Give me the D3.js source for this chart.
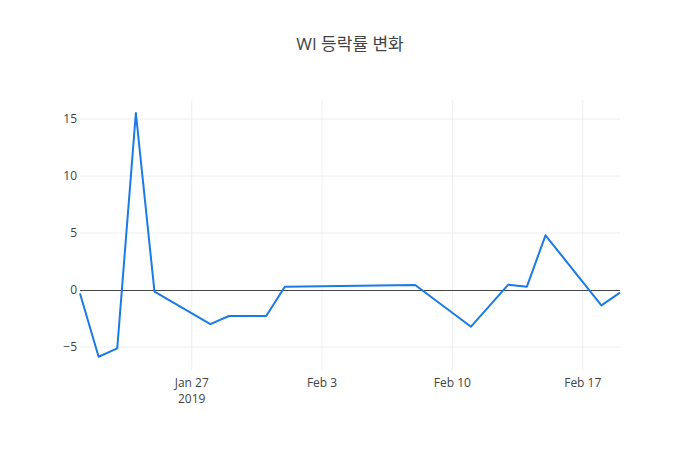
<!DOCTYPE html>
<html>
  <head>
    <meta charset="utf-8" />
    <title>WI 등락률 변화</title>
    <style>
      body { margin: 0; background: #fff; }
      svg text { font-family: "Open Sans", "Noto Sans CJK KR", sans-serif; fill: #444; }
    </style>
  </head>
  <body>
    <svg width="700" height="450"></svg>
    <script src="https://d3js.org/d3.v7.min.js"></script>
    <script>
      // trading days and daily change (%)
      const dates = ["2019-01-21", "2019-01-22", "2019-01-23", "2019-01-24", "2019-01-25",
        "2019-01-28", "2019-01-29", "2019-01-30", "2019-01-31", "2019-02-01",
        "2019-02-08", "2019-02-11", "2019-02-13", "2019-02-14", "2019-02-15",
        "2019-02-18", "2019-02-19"];
      const changes = [-0.3, -5.86, -5.13, 15.53, -0.15,
        -2.99, -2.28, -2.28, -2.28, 0.29,
        0.44, -3.22, 0.47, 0.29, 4.8,
        -1.35, -0.23];
      const yTicks = [-5, 0, 5, 10, 15];
      const title = "WI 등락률 변화";

      const parse = d3.timeParse("%Y-%m-%d");
      const data = dates.map((d, i) => ({ date: parse(d), value: changes[i] }));

      const svg = d3.select("svg"),
        width = +svg.attr("width"),
        height = +svg.attr("height"),
        margin = { top: 100, right: 80, bottom: 80, left: 80 };

      const x = d3.scaleTime()
        .domain(d3.extent(data, d => d.date))
        .range([margin.left, width - margin.right]);

      const y = d3.scaleLinear()
        .domain([-7.02, 16.67])
        .range([height - margin.bottom, margin.top]);

      // grid
      const xTicks = x.ticks(d3.timeWeek.every(1));
      svg.append("g").selectAll("line")
        .data(xTicks)
        .enter().append("line")
        .attr("x1", d => x(d)).attr("x2", d => x(d))
        .attr("y1", margin.top).attr("y2", height - margin.bottom)
        .attr("stroke", "#eee").attr("stroke-width", 1);

      svg.append("g").selectAll("line")
        .data(yTicks.filter(d => d !== 0))
        .enter().append("line")
        .attr("x1", margin.left).attr("x2", width - margin.right)
        .attr("y1", d => y(d)).attr("y2", d => y(d))
        .attr("stroke", "#eee").attr("stroke-width", 1);

      // zero line
      svg.append("line")
        .attr("x1", margin.left).attr("x2", width - margin.right)
        .attr("y1", Math.round(y(0)) + 0.5).attr("y2", Math.round(y(0)) + 0.5)
        .attr("stroke", "#444").attr("stroke-width", 1);

      // y labels
      svg.append("g").selectAll("text")
        .data(yTicks)
        .enter().append("text")
        .attr("x", margin.left - 3)
        .attr("y", d => y(d))
        .attr("dy", "0.35em")
        .attr("text-anchor", "end")
        .style("font-size", "12px")
        .text(d => d < 0 ? "\u2212" + Math.abs(d) : d);

      // x labels
      const fmt = d3.timeFormat("%b %-d");
      const xl = svg.append("g").selectAll("text")
        .data(xTicks)
        .enter().append("text")
        .attr("x", d => x(d))
        .attr("y", height - margin.bottom + 17)
        .attr("text-anchor", "middle")
        .style("font-size", "12px");
      xl.append("tspan").text(d => fmt(d));
      xl.filter((d, i) => i === 0).append("tspan")
        .attr("x", d => x(d)).attr("dy", 16)
        .text(d => d.getFullYear());

      // line
      const line = d3.line()
        .x(d => x(d.date))
        .y(d => y(d.value));

      svg.append("path")
        .datum(data)
        .attr("fill", "none")
        .attr("stroke", "#1a7ae6")
        .attr("stroke-width", 2)
        .attr("stroke-linejoin", "round")
        .attr("d", line);

      // title
      svg.append("text")
        .attr("x", width / 2)
        .attr("y", 50)
        .attr("text-anchor", "middle")
        .style("font-size", "17px")
        .text(title);
    </script>
  </body>
</html>
